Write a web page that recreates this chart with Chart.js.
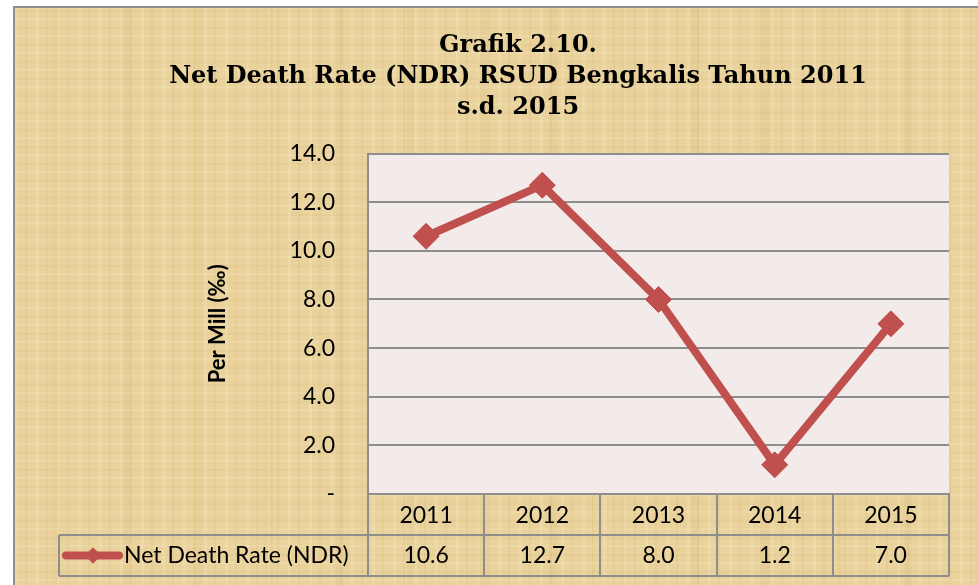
<!DOCTYPE html>
<html>
<head>
<meta charset="utf-8">
<script src="https://cdn.jsdelivr.net/npm/chart.js@4.4.0/dist/chart.umd.min.js"></script>
<style>
    html, body { margin: 0; padding: 0; background: #fff; overflow: hidden; }
    #paper {
        position: absolute; left: 13px; top: 6px; width: 980px; height: 590px;
        border-left: 2px solid #8e8e8e; border-top: 2px solid #8e8e8e;
        background-color: #e9d29c;
        background-image:
            repeating-linear-gradient(90deg, rgba(255,250,225,0.16) 0 3px, rgba(0,0,0,0) 3px 10px, rgba(170,130,50,0.07) 10px 12px, rgba(0,0,0,0) 12px 21px),
            repeating-linear-gradient(0deg, rgba(255,250,225,0.13) 0 2px, rgba(0,0,0,0) 2px 8px, rgba(170,130,50,0.06) 8px 10px, rgba(0,0,0,0) 10px 17px),
            repeating-linear-gradient(90deg, rgba(0,0,0,0) 0 37px, rgba(200,160,80,0.08) 37px 45px, rgba(0,0,0,0) 45px 71px);
    }
    #holder { position: absolute; left: 0; top: 0; width: 978px; height: 585px; }
</style>
</head>
<body>
<div id="paper"></div>
<div id="holder"><canvas id="ndrChart" width="978" height="585"></canvas></div>
<script>
// Grafik 2.10 - Net Death Rate RSUD Bengkalis

const years = ['2011', '2012', '2013', '2014', '2015'];
const ndrValues = [10.6, 12.7, 8.0, 1.2, 7.0];
const seriesLabel = 'Net Death Rate (NDR)';
const chartTitle = ['Grafik 2.10.', 'Net Death Rate (NDR) RSUD Bengkalis Tahun 2011', 's.d. 2015'];
const yAxisTitle = 'Per Mill (‰)';
const yMin = 0;
const yMax = 14;
const yStep = 2;

const LINE_RED = '#c0504d';
const GRID_GRAY = '#8e8e8e';
const BODY_FONT = 'Lato, "Open Sans", sans-serif';

// plot background
const plotBackground = {
    id: 'plotBackground',
    beforeDraw(chart) {
        const { ctx, chartArea: a } = chart;
        ctx.save();
        ctx.fillStyle = '#f3eaea';
        ctx.fillRect(a.left, a.top, a.right - a.left, a.bottom - a.top);
        ctx.restore();
    }
};

// data table under the plot (Excel style)
const dataTable = {
    id: 'dataTable',
    afterDraw(chart) {
        const { ctx, chartArea: a } = chart;
        const x = chart.scales.x;
        const half = (x.getPixelForValue(1) - x.getPixelForValue(0)) / 2;
        const rowH = 41;
        const top = a.bottom;
        const mid = top + rowH;
        const bot = top + rowH * 2;
        const legendLeft = 59;

        ctx.save();
        ctx.strokeStyle = GRID_GRAY;
        ctx.lineWidth = 2;
        ctx.beginPath();
        for (let i = 0; i <= years.length; i++) {
            const px = Math.round(x.getPixelForValue(0) - half + i * half * 2);
            ctx.moveTo(px, top);
            ctx.lineTo(px, bot);
        }
        ctx.moveTo(legendLeft, mid);
        ctx.lineTo(a.right, mid);
        ctx.moveTo(legendLeft, bot);
        ctx.lineTo(a.right, bot);
        ctx.moveTo(legendLeft, mid);
        ctx.lineTo(legendLeft, bot);
        ctx.stroke();

        // values row
        ctx.fillStyle = '#000';
        ctx.font = '23px ' + BODY_FONT;
        ctx.textAlign = 'center';
        ctx.textBaseline = 'middle';
        const rowY = mid + rowH / 2;
        ndrValues.forEach((v, i) => {
            ctx.fillText(v.toFixed(1), x.getPixelForValue(i), rowY);
        });

        // legend key
        ctx.strokeStyle = LINE_RED;
        ctx.lineWidth = 8;
        ctx.lineCap = 'round';
        ctx.beginPath();
        ctx.moveTo(66, rowY);
        ctx.lineTo(119, rowY);
        ctx.stroke();
        ctx.fillStyle = LINE_RED;
        Chart.helpers.drawPoint(ctx, { pointStyle: 'rectRot', radius: 8, borderWidth: 0 }, 93, rowY);
        ctx.fill();
        ctx.fillStyle = '#000';
        ctx.textAlign = 'left';
        ctx.fillText(seriesLabel, 124, rowY);
        ctx.restore();
    }
};

new Chart(document.getElementById('ndrChart'), {
    type: 'line',
    data: {
        labels: years,
        datasets: [{
            label: seriesLabel,
            data: ndrValues,
            borderColor: LINE_RED,
            backgroundColor: LINE_RED,
            borderWidth: 8,
            pointStyle: 'rectRot',
            pointRadius: 13,
            pointBorderWidth: 1,
            pointBackgroundColor: LINE_RED,
            pointBorderColor: LINE_RED,
            tension: 0
        }]
    },
    options: {
        responsive: false,
        animation: false,
        layout: {
            padding: { left: 87, right: 29, top: 0, bottom: 9 }
        },
        plugins: {
            legend: { display: false },
            tooltip: { enabled: false },
            title: {
                display: true,
                text: chartTitle,
                color: '#000',
                font: { family: '"DejaVu Serif", serif', size: 24, weight: 'bold', lineHeight: 1.3 },
                padding: { top: 30, bottom: 30 }
            }
        },
        scales: {
            x: {
                offset: true,
                grid: { display: false, drawTicks: false },
                border: { display: true, color: GRID_GRAY, width: 2 },
                ticks: {
                    color: '#000',
                    font: { family: BODY_FONT, size: 23 },
                    padding: 8,
                    maxRotation: 0
                },
                afterFit(scale) { scale.height = 82; }
            },
            y: {
                min: yMin,
                max: yMax,
                grid: { color: GRID_GRAY, lineWidth: 2, drawTicks: false },
                border: { display: true, color: GRID_GRAY, width: 2 },
                ticks: {
                    stepSize: yStep,
                    color: '#000',
                    padding: 33,
                    font: { family: BODY_FONT, size: 23 },
                    callback: v => (v === 0 ? '-' : v.toFixed(1))
                },
                title: {
                    display: true,
                    text: yAxisTitle,
                    color: '#000',
                    font: { family: BODY_FONT, size: 22, weight: 'bold' },
                    padding: { top: 118, bottom: 0 }
                },
                afterFit(scale) { scale.width = 281; }
            }
        }
    },
    plugins: [plotBackground, dataTable]
});
</script>
</body>
</html>
